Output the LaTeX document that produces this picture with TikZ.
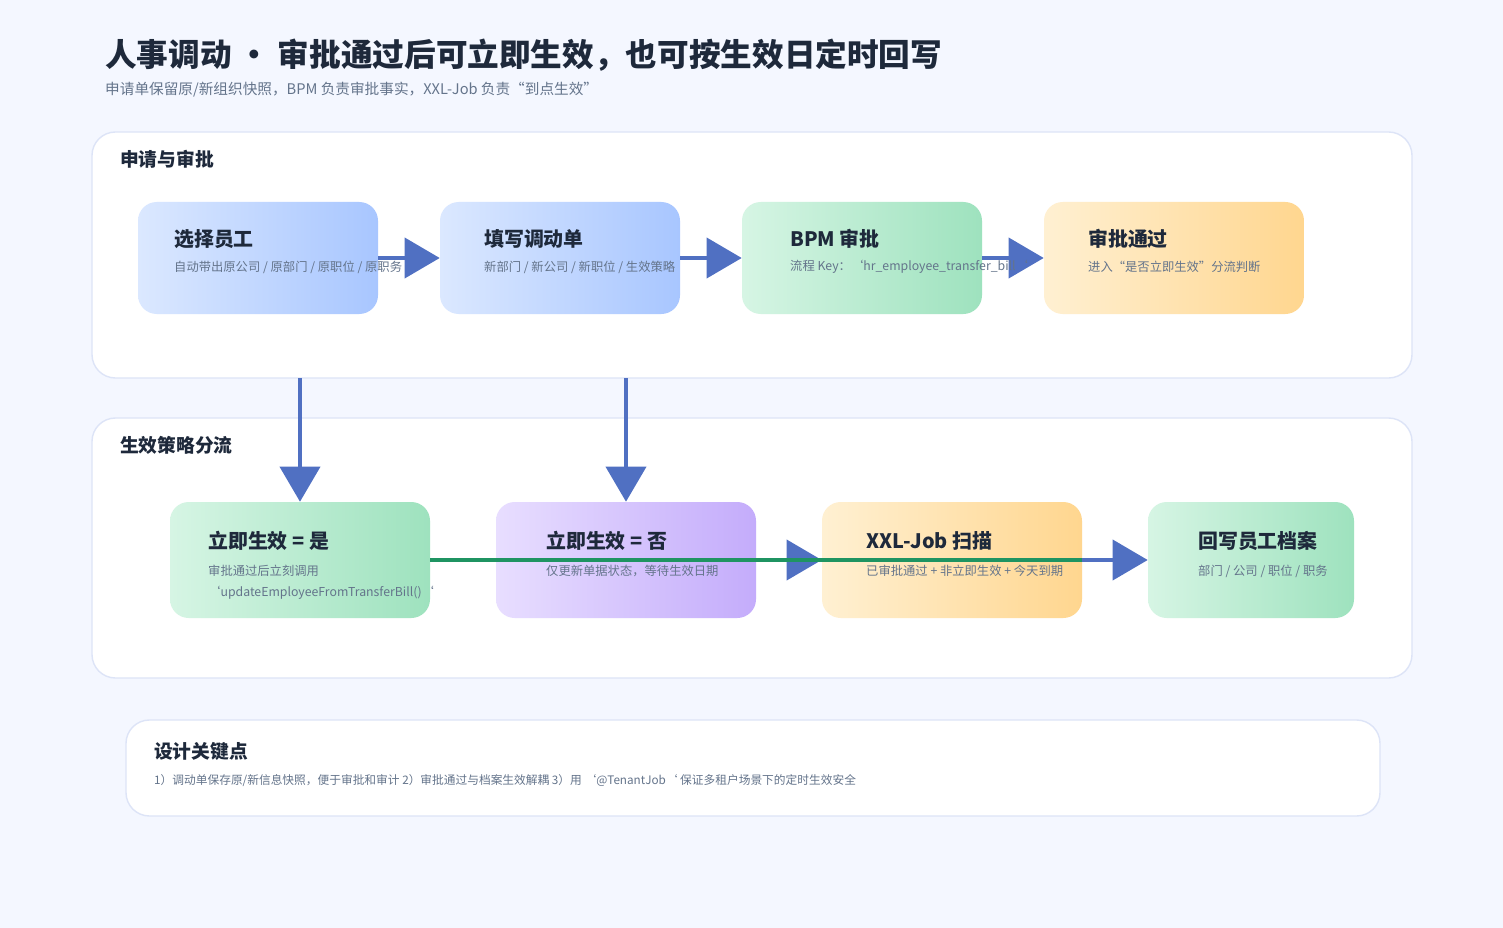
\documentclass[tikz,border=0pt]{standalone}
\usepackage{fontspec}
\setmainfont{Noto Sans CJK SC}
\usepackage{tikz}
\usetikzlibrary{arrows.meta,positioning}

\definecolor{pagebg}{HTML}{F4F7FF}
\definecolor{edge}{HTML}{DDE4F7}
\definecolor{ink}{HTML}{1E293B}
\definecolor{mute}{HTML}{64748B}
\definecolor{flow}{HTML}{5070C2}
\definecolor{fast}{HTML}{1F9462}

\tikzset{
  panel/.style = {draw=edge, line width=1.2pt, fill=white, rounded corners=20},
  card/.style = {minimum height=112*0.03cm, inner sep=0pt, rounded corners=16},
  cardblue/.style = {card, left color={rgb,255:red,219;green,232;blue,255}, right color={rgb,255:red,168;green,198;blue,255}},
  cardgreen/.style = {card, left color={rgb,255:red,214;green,245;blue,228}, right color={rgb,255:red,158;green,226;blue,190}},
  cardamber/.style = {card, left color={rgb,255:red,255;green,240;blue,210}, right color={rgb,255:red,255;green,214;blue,143}},
  cardviolet/.style = {card, left color={rgb,255:red,232;green,222;blue,255}, right color={rgb,255:red,196;green,172;blue,251}},
  ttl/.style = {anchor=west, inner sep=0pt, text=ink, font=\fontsize{17}{20}\selectfont\bfseries},
  sub/.style = {anchor=west, inner sep=0pt, text=mute, font=\fontsize{10.5}{13}\selectfont},
  head/.style = {anchor=west, inner sep=0pt, text=ink, font=\fontsize{16}{19}\selectfont\bfseries},
  link/.style = {draw=flow, line width=4pt, -{Triangle[length=30pt, width=34pt]}},
}

\begin{document}
\begin{tikzpicture}[x=0.03cm, y=-0.03cm]

    % page
    \fill [pagebg] (0,0) rectangle (1503,928);
    \useasboundingbox (0,0) rectangle (1503,928);

    \node [anchor=west, inner sep=0pt, text=ink, font=\fontsize{27}{32}\selectfont\bfseries] (title) at (105,55) {人事调动 · 审批通过后可立即生效，也可按生效日定时回写};
    \node [anchor=west, inner sep=0pt, text=mute, font=\fontsize{12.5}{15}\selectfont] (subtitle) at (105,90) {申请单保留原/新组织快照，BPM 负责审批事实，XXL-Job 负责“到点生效”};

    % panels
    \draw [panel] (92,132) rectangle (1412,378);
    \draw [panel] (92,418) rectangle (1412,678);
    \draw [panel] (126,720) rectangle (1380,816);
    \node [head] (p1) at (120,159) {申请与审批};
    \node [head] (p2) at (120,445) {生效策略分流};
    \node [head] (p3) at (154,751) {设计关键点};
    \node [sub, font=\fontsize{10}{12}\selectfont] (p3text) at (154,781) {1）调动单保存原/新信息快照，便于审批和审计 2）审批通过与档案生效解耦 3）用 `@TenantJob` 保证多租户场景下的定时生效安全};

    % row 1
    \node [cardblue, minimum width=240*0.03cm] (pick) at (258,258) {};
    \node [cardblue, minimum width=240*0.03cm] (fill) at (560,258) {};
    \node [cardgreen, minimum width=240*0.03cm] (bpm) at (862,258) {};
    \node [cardamber, minimum width=260*0.03cm] (pass) at (1174,258) {};

    % row 2
    \node [cardgreen, minimum width=260*0.03cm, minimum height=116*0.03cm] (now) at (300,560) {};
    \node [cardviolet, minimum width=260*0.03cm, minimum height=116*0.03cm] (later) at (626,560) {};
    \node [cardamber, minimum width=260*0.03cm, minimum height=116*0.03cm] (scan) at (952,560) {};
    \node [cardgreen, minimum width=206*0.03cm, minimum height=116*0.03cm] (back) at (1251,560) {};

    % connectors
    \coordinate (d1) at (300,378);
    \coordinate (d2) at (626,378);
    \draw [link] (pick) -- (fill);
    \draw [link] (fill) -- (bpm);
    \draw [link] (bpm) -- (pass);
    \draw [link] (d1) -- (now.north);
    \draw [link] (d2) -- (later.north);
    \draw [link] (later) -- (scan);
    \draw [link] (scan) -- (back);
    \draw [fast, line width=4pt] (now.east) -- (scan.east);

    % texts
    \node [ttl] at (174,239) {选择员工};
    \node [sub] at (174,267) {自动带出原公司 / 原部门 / 原职位 / 原职务};
    \node [ttl] at (484,239) {填写调动单};
    \node [sub] at (484,267) {新部门 / 新公司 / 新职位 / 生效策略};
    \node [ttl] at (790,239) {BPM 审批};
    \node [sub] at (790,267) {流程 Key：`hr\_employee\_transfer\_bill`};
    \node [ttl] at (1088,239) {审批通过};
    \node [sub] at (1088,267) {进入“是否立即生效”分流判断};

    \node [ttl] at (208,541) {立即生效 = 是};
    \node [sub] at (208,571) {审批通过后立刻调用};
    \node [sub] at (208,593) {`updateEmployeeFromTransferBill()`};
    \node [ttl] at (546,541) {立即生效 = 否};
    \node [sub] at (546,571) {仅更新单据状态，等待生效日期};
    \node [ttl] at (866,541) {XXL-Job 扫描};
    \node [sub] at (866,571) {已审批通过 + 非立即生效 + 今天到期};
    \node [ttl] at (1198,541) {回写员工档案};
    \node [sub] at (1198,571) {部门 / 公司 / 职位 / 职务};

\end{tikzpicture}
\end{document}
